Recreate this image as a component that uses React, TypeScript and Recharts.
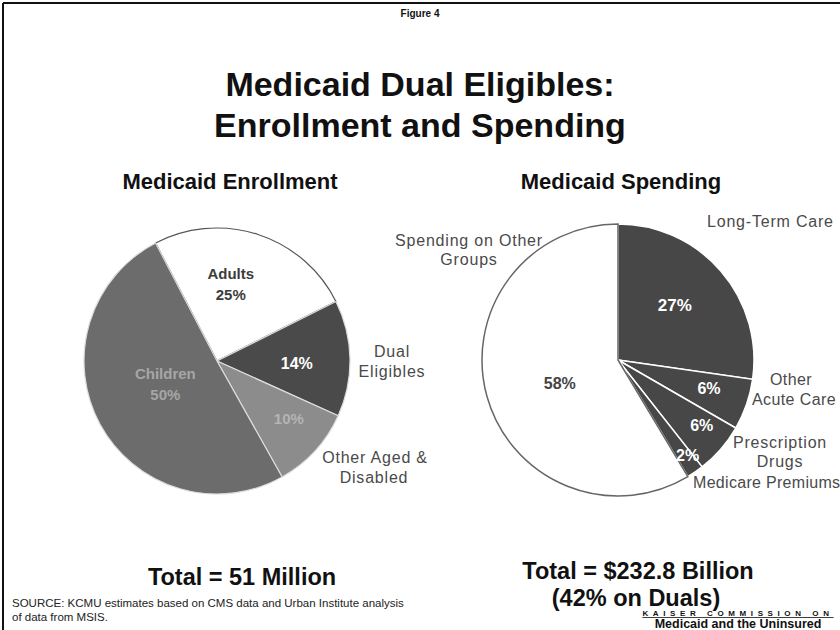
import React from 'react';
import { PieChart, Pie, Cell } from 'recharts';

const FONT = '"Liberation Sans", Arial, Helvetica, sans-serif';

// ---- Data ----
const enrollmentCategories = ['Adults', 'Dual Eligibles', 'Other Aged & Disabled', 'Children'];
const enrollmentShares = [25, 14, 10, 50];

const spendingCategories = [
  'Long-Term Care',
  'Other Acute Care',
  'Prescription Drugs',
  'Medicare Premiums',
  'Spending on Other Groups',
];
const spendingShares = [27, 6, 6, 2, 58];

const enrollmentData = enrollmentCategories.map((name, i) => ({ name, value: enrollmentShares[i] }));
const spendingData = spendingCategories.map((name, i) => ({ name, value: spendingShares[i] }));

// ---- Styles ----
const enrollmentFill = ['#ffffff', '#4a4a4a', '#8c8c8c', '#6c6c6c'];
const enrollmentStroke = ['#555555', '#dcdcdc', '#dcdcdc', '#dcdcdc'];
const spendingFill = ['#474747', '#474747', '#474747', '#474747', '#ffffff'];
const spendingStroke = ['#ffffff', '#ffffff', '#ffffff', '#ffffff', '#666666'];

type LabelStyle = { r: number; da: number; color: string; size: number; showName: boolean };

const enrollmentLabelStyle: LabelStyle[] = [
  { r: 0.6, da: 8, color: '#3c3c3c', size: 15, showName: true },
  { r: 0.6, da: -3, color: '#ffffff', size: 16, showName: false },
  { r: 0.69, da: 4, color: '#b4b4b4', size: 15, showName: false },
  { r: 0.42, da: -6, color: '#a6a6a6', size: 15, showName: true },
];
const spendingLabelStyle: LabelStyle[] = [
  { r: 0.58, da: 3, color: '#ffffff', size: 17, showName: false },
  { r: 0.7, da: 2, color: '#ffffff', size: 16, showName: false },
  { r: 0.78, da: 3, color: '#ffffff', size: 16, showName: false },
  { r: 0.87, da: 1.5, color: '#ffffff', size: 16, showName: false },
  { r: 0.46, da: 6, color: '#444444', size: 16, showName: false },
];

const RAD = Math.PI / 180;

function makeLabel(styles: LabelStyle[], names: string[], shares: number[]) {
  return (props: any) => {
    const { cx, cy, midAngle, outerRadius, index } = props;
    const s = styles[index];
    const r = outerRadius * s.r;
    const a = (midAngle + s.da) * RAD;
    const x = cx + r * Math.cos(-a);
    const y = cy + r * Math.sin(-a);
    const pct = `${shares[index]}%`;
    const common = {
      textAnchor: 'middle' as const,
      fill: s.color,
      fontFamily: FONT,
      fontSize: s.size,
      fontWeight: 'bold' as const,
    };
    if (s.showName) {
      return (
        <text x={x} y={y} {...common}>
          <tspan x={x} dy="-0.25em">{names[index]}</tspan>
          <tspan x={x} dy="1.4em">{pct}</tspan>
        </text>
      );
    }
    return (
      <text x={x} y={y} dy="0.36em" {...common}>
        {pct}
      </text>
    );
  };
}

const outerLabel = { fontFamily: FONT, fontSize: 16, fill: '#4a4a4a', letterSpacing: 0.8 };
const bigText = { fontFamily: FONT, fontWeight: 'bold' as const, fill: '#111' };

export default function App() {
  return (
    <div
      style={{
        position: 'absolute',
        left: 0,
        top: 0,
        width: 840,
        height: 630,
        background: '#ffffff',
        overflow: 'hidden',
      }}
    >
      <PieChart width={840} height={630} margin={{ top: 0, right: 0, bottom: 0, left: 0 }}>
        <Pie
          data={enrollmentData}
          dataKey="value"
          nameKey="name"
          cx={217}
          cy={361}
          outerRadius={133}
          startAngle={117.5}
          endAngle={-242.5}
          labelLine={false}
          label={makeLabel(enrollmentLabelStyle, enrollmentCategories, enrollmentShares)}
          isAnimationActive={false}
        >
          {enrollmentData.map((d, i) => (
            <Cell key={d.name} fill={enrollmentFill[i]} stroke={enrollmentStroke[i]} strokeWidth={1.2} />
          ))}
        </Pie>
        <Pie
          data={spendingData}
          dataKey="value"
          nameKey="name"
          cx={618}
          cy={360}
          outerRadius={136}
          startAngle={90}
          endAngle={-270}
          labelLine={false}
          label={makeLabel(spendingLabelStyle, spendingCategories, spendingShares)}
          isAnimationActive={false}
        >
          {spendingData.map((d, i) => (
            <Cell key={d.name} fill={spendingFill[i]} stroke={spendingStroke[i]} strokeWidth={1.5} />
          ))}
        </Pie>
      </PieChart>

      <svg
        width={840}
        height={630}
        style={{ position: 'absolute', left: 0, top: 0, pointerEvents: 'none' }}
      >
        {/* frame */}
        <line x1={3} y1={3} x2={840} y2={3} stroke="#111" strokeWidth={2} />
        <line x1={3} y1={3} x2={3} y2={630} stroke="#111" strokeWidth={2} />

        <text x={420} y={17} textAnchor="middle" {...bigText} fontSize={10}>
          Figure 4
        </text>
        <text x={420} y={96} textAnchor="middle" {...bigText} fontSize={34}>
          Medicaid Dual Eligibles:
        </text>
        <text x={420} y={137} textAnchor="middle" {...bigText} fontSize={34}>
          Enrollment and Spending
        </text>

        <text x={230} y={189} textAnchor="middle" {...bigText} fontSize={22}>
          Medicaid Enrollment
        </text>
        <text x={621} y={189} textAnchor="middle" {...bigText} fontSize={22}>
          Medicaid Spending
        </text>

        {/* enrollment outer labels */}
        <text textAnchor="middle" {...outerLabel}>
          <tspan x={392} y={357}>Dual</tspan>
          <tspan x={392} y={377}>Eligibles</tspan>
        </text>
        <text textAnchor="middle" {...outerLabel}>
          <tspan x={375} y={463}>Other Aged &amp;</tspan>
          <tspan x={374} y={483}>Disabled</tspan>
        </text>

        {/* spending outer labels */}
        <text textAnchor="middle" {...outerLabel}>
          <tspan x={469} y={246}>Spending on Other</tspan>
          <tspan x={469} y={265}>Groups</tspan>
        </text>
        <text x={707} y={227} {...outerLabel}>
          Long-Term Care
        </text>
        <text {...outerLabel} letterSpacing={0.4}>
          <tspan x={791} y={385} textAnchor="middle">Other</tspan>
          <tspan x={752} y={405}>Acute Care</tspan>
        </text>
        <text textAnchor="middle" {...outerLabel}>
          <tspan x={780} y={448}>Prescription</tspan>
          <tspan x={780} y={467}>Drugs</tspan>
        </text>
        <text x={693} y={488} {...outerLabel} letterSpacing={0.3}>
          Medicare Premiums
        </text>

        {/* totals */}
        <text x={242} y={585} textAnchor="middle" {...bigText} fontSize={23.5}>
          Total = 51 Million
        </text>
        <text x={638} y={579} textAnchor="middle" {...bigText} fontSize={23.5}>
          Total = $232.8 Billion
        </text>
        <text x={636} y={606} textAnchor="middle" {...bigText} fontSize={23.5}>
          (42% on Duals)
        </text>

        {/* source */}
        <text x={12} y={607} fontFamily={FONT} fontSize={11.5} fill="#222">
          SOURCE: KCMU estimates based on CMS data and Urban Institute analysis
        </text>
        <text x={12} y={621} fontFamily={FONT} fontSize={11.5} fill="#222">
          of data from MSIS.
        </text>

        {/* logo */}
        <text
          x={738}
          y={616}
          textAnchor="middle"
          fontFamily={FONT}
          fontWeight="bold"
          fontSize={8}
          letterSpacing={4.6}
          fill="#111"
          textDecoration="underline"
        >
          KAISER COMMISSION ON
        </text>
        <text x={738} y={628} textAnchor="middle" fontFamily={FONT} fontWeight="900" fontSize={12.5} fill="#111">
          Medicaid and the Uninsured
        </text>
      </svg>
    </div>
  );
}
